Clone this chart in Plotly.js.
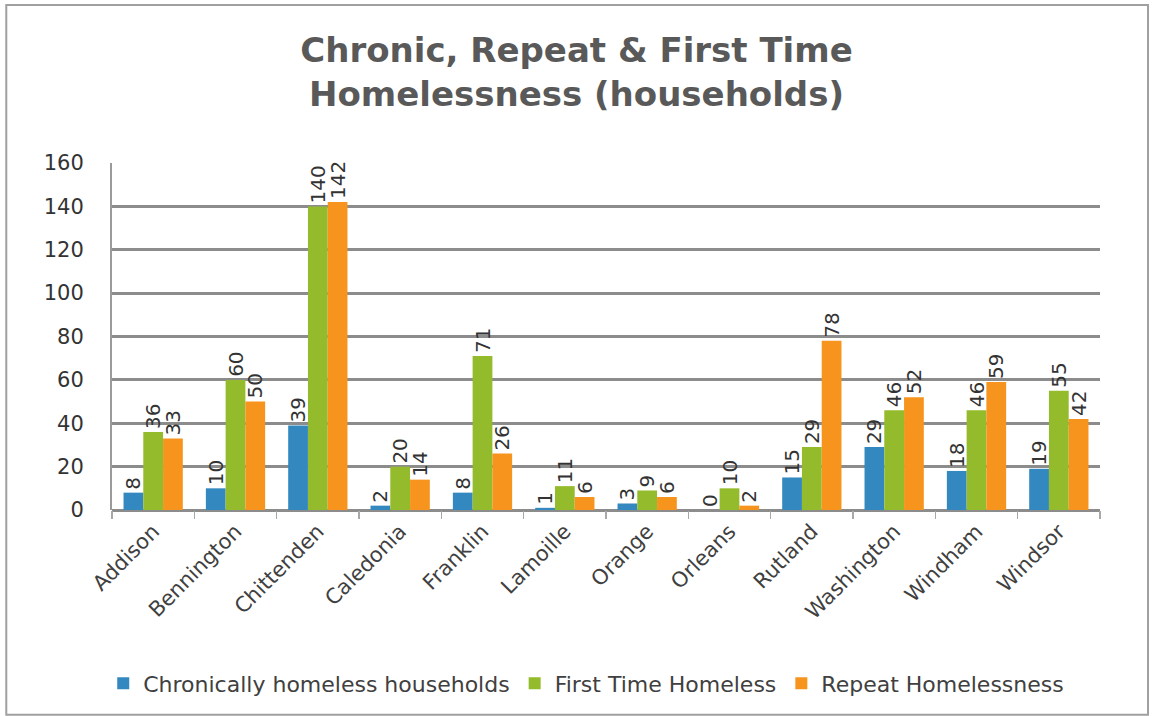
<!DOCTYPE html>
<html>
<head>
<meta charset="utf-8">
<script src="https://cdn.plot.ly/plotly-3.0.1.min.js"></script>
<style>html,body{margin:0;padding:0;background:#fff;}#chart{width:1153px;height:716px;}</style>
</head>
<body>
<div id="chart"></div>
<script>
var categories = ["Addison","Bennington","Chittenden","Caledonia","Franklin","Lamoille","Orange","Orleans","Rutland","Washington","Windham","Windsor"];
var chronic = [8,10,39,2,8,1,3,0,15,29,18,19];
var firstTime = [36,60,140,20,71,11,9,10,29,46,46,55];
var repeat = [33,50,142,14,26,6,6,2,78,52,59,42];
var seriesNames = ["Chronically homeless households","First Time Homeless","Repeat Homelessness"];
var yTicks = [0,20,40,60,80,100,120,140,160];

var FONT = "DejaVu Sans, Liberation Sans, Arial, sans-serif";
var colors = ["#3388c0","#94bb2c","#f7941d"];
var dataSets = [chronic, firstTime, repeat];
var traces = dataSets.map(function(vals, i){
  return {
    type: "bar",
    x: categories,
    y: vals,
    name: seriesNames[i],
    marker: {color: colors[i], line: {width: 0}},
    text: vals.map(String),
    textposition: "outside",
    textangle: -90,
    constraintext: "none",
    cliponaxis: false,
    textfont: {family: FONT, size: 20, color: "#333333"}
  };
});

var layout = {
  width: 1153, height: 716,
  paper_bgcolor: "#ffffff", plot_bgcolor: "#ffffff",
  margin: {l: 112, r: 53, t: 163, b: 206, autoexpand: false},
  barmode: "group", bargap: 0.28, bargroupgap: 0,
  title: {
    text: "<b>Chronic, Repeat &amp; First Time<br>Homelessness (households)</b>",
    font: {family: FONT, size: 34, color: "#595959"},
    x: 0.5, xanchor: "center", y: 0.913, yanchor: "middle", yref: "container"
  },
  xaxis: {
    type: "category",
    automargin: false,
    tickangle: -45,
    tickfont: {family: FONT, size: 21, color: "#404040"},
    showgrid: false, zeroline: false,
    showline: false,
    ticks: "outside", tickson: "boundaries", ticklen: 8, tickwidth: 1.5, tickcolor: "#a8a8a8",
    ticklabelstandoff: 4
  },
  yaxis: {
    range: [0, 160],
    automargin: false,
    tickvals: yTicks,
    ticktext: yTicks.map(String),
    tickfont: {family: FONT, size: 21, color: "#333333"},
    showgrid: true, gridcolor: "#8c8c8c", gridwidth: 3,
    zeroline: true, zerolinecolor: "#8c8c8c", zerolinewidth: 3,
    showline: true, linecolor: "#9a9a9a", linewidth: 2,
    ticks: "", ticklabelstandoff: 22
  },
  showlegend: true,
  legend: {
    orientation: "h", x: 0.48, xanchor: "center", y: -0.5, yanchor: "middle",
    font: {family: FONT, size: 22, color: "#404040"},
    itemwidth: 30, traceorder: "normal"
  },
  shapes: [{
    type: "rect", xref: "paper", yref: "paper",
    x0: -0.107, x1: 1.0486, y0: -0.59, y1: 1.455,
    line: {color: "#a0a0a0", width: 2}, fillcolor: "rgba(0,0,0,0)", layer: "below"
  }]
};

Plotly.newPlot("chart", traces, layout, {displayModeBar: false, staticPlot: true});
</script>
</body>
</html>
